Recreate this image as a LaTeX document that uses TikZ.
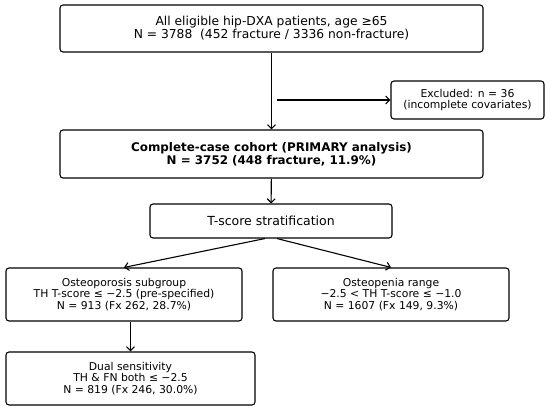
\documentclass[tikz,border=0pt]{standalone}
\usepackage{fontspec}
\setmainfont{DejaVu Sans}
\usetikzlibrary{calc,arrows.meta}

\tikzset{
  box/.style={draw, rounded corners=3pt, line width=1.1pt, align=center,
    inner sep=0pt, font=\fontsize{10.8}{11.5}\selectfont},
  mainbox/.style={box, minimum width=423pt, font=\fontsize{12.3}{13}\selectfont},
  arr/.style={-{Straight Barb[length=4pt,width=8pt]}, line width=1.1pt}
}

\begin{document}
\begin{tikzpicture}[x=1pt, y=-1pt]

\useasboundingbox (0,0) rectangle (550,411);

\node[mainbox, minimum height=47pt] (all) at (271.5,28.5)
  {All eligible hip-DXA patients, age ≥65\\N = 3788~~(452 fracture / 3336 non-fracture)};

\node[box, minimum width=153pt, minimum height=38pt] (excl) at (467.5,100)
  {Excluded: n = 36\\(incomplete covariates)};

\node[mainbox, minimum height=48pt, font=\fontsize{11.9}{13}\selectfont\bfseries] (cohort) at (271.5,154)
  {Complete-case cohort (PRIMARY analysis)\\N = 3752 (448 fracture, 11.9\%)};

\node[box, minimum width=242pt, minimum height=34pt, font=\fontsize{12.5}{13}\selectfont] (ts) at (271,221)
  {T-score stratification};

\node[box, minimum width=236pt, minimum height=53pt] (osteo) at (124,294.5)
  {Osteoporosis subgroup\\TH T-score ≤ −2.5 (pre-specified)\\N = 913 (Fx 262, 28.7\%)};

\node[box, minimum width=236pt, minimum height=53pt] (penia) at (391,294.5)
  {Osteopenia range\\−2.5 < TH T-score ≤ −1.0\\N = 1607 (Fx 149, 9.3\%)};

\node[box, minimum width=249pt, minimum height=53pt] (dual) at (130.5,378.5)
  {Dual sensitivity\\TH \& FN both ≤ −2.5\\N = 819 (Fx 246, 30.0\%)};

% exclusion branch
\coordinate (split) at (277,100);

\draw[arr] (all) -- (cohort);
\draw[arr] (split) -- (excl);
\draw[arr] (cohort) -- (ts);
\draw[arr] ($(ts.south)+(-6,0)$) -- (osteo.north);
\draw[arr] ($(ts.south)+(6,0)$) -- (penia.north);
\draw[arr] (osteo.south -| dual.north) -- (dual.north);

\end{tikzpicture}
\end{document}
